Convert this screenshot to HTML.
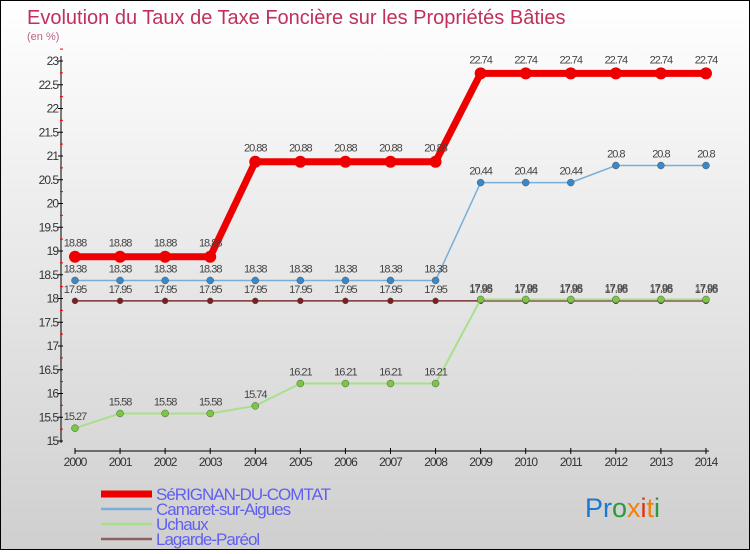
<!DOCTYPE html>
<html><head><meta charset="utf-8"><style>
body{margin:0}
#c{width:748px;height:548px;border:1px solid #000;background:linear-gradient(#ffffff,#cfcfcf);position:relative;font-family:"Liberation Sans",sans-serif}
</style></head><body>
<div id="c">
<svg id="s" width="748" height="548">
<text x="26" y="23" font-size="20" fill="#c0305a">Evolution du Taux de Taxe Foncière sur les Propriétés Bâties</text>
<text x="26" y="39" font-size="11" fill="#c0608a">(en %)</text>
<g id="g"></g>
<text x="584" y="516" font-size="27"><tspan fill="#1a7ad0">Pr</tspan><tspan fill="#2a9a3a">o</tspan><tspan fill="#f08010">x</tspan><tspan fill="#e03010">i</tspan><tspan fill="#f08010">t</tspan><tspan fill="#2a9a3a">i</tspan></text>
</svg></div>
<script>
const years=[2000,2001,2002,2003,2004,2005,2006,2007,2008,2009,2010,2011,2012,2013,2014];
const serignan=[18.88,18.88,18.88,18.88,20.88,20.88,20.88,20.88,20.88,22.74,22.74,22.74,22.74,22.74,22.74];
const camaret=[18.38,18.38,18.38,18.38,18.38,18.38,18.38,18.38,18.38,20.44,20.44,20.44,20.8,20.8,20.8];
const uchaux=[15.27,15.58,15.58,15.58,15.74,16.21,16.21,16.21,16.21,17.98,17.98,17.98,17.98,17.98,17.98];
const lagarde=[17.95,17.95,17.95,17.95,17.95,17.95,17.95,17.95,17.95,17.95,17.95,17.95,17.95,17.95,17.95];
const yTicks=[15,15.5,16,16.5,17,17.5,18,18.5,19,19.5,20,20.5,21,21.5,22,22.5,23];
const names=["SéRIGNAN-DU-COMTAT","Camaret-sur-Aigues","Uchaux","Lagarde-Paréol"];
const NS="http://www.w3.org/2000/svg",g=document.getElementById('g');
const X=i=>74+i*45.07, Y=v=>440-(v-15)*47.5;
function el(t,a,n){const e=document.createElementNS(NS,t);for(const k in a)e.setAttribute(k,a[k]);


g.appendChild(e);return e;}
el('line',{x1:60,y1:55,x2:60,y2:442,stroke:'#000'},'y-axis');
yTicks.forEach(v=>{el('line',{x1:57,x2:62,y1:Y(v),y2:Y(v),stroke:'#000'},'y-tick');
const t=el('text',{x:57,y:Y(v)+4,'font-size':12,fill:'#333','text-anchor':'end','letter-spacing':'-1'},'y-tick-label');t.textContent=v;
el('line',{x1:59,x2:62,y1:Y(v)-11.9,y2:Y(v)-11.9,stroke:'#e00'},'y-minor-tick');});
el('line',{x1:74,y1:450,x2:708,y2:450,stroke:'#000'},'x-axis');
years.forEach((y,i)=>{el('line',{x1:X(i),x2:X(i),y1:447,y2:453,stroke:'#000'},'x-tick');
const t=el('text',{x:X(i),y:465,'font-size':12,fill:'#333','text-anchor':'middle','letter-spacing':'-1'},'x-tick-label');t.textContent=y;});
const series=[[lagarde,'#7a3030','#7a2020',1.5,3,'lagarde'],[uchaux,'#a8e08a','#78c840',2,3.5,'uchaux'],[camaret,'#78aed8','#3a88c8',1.5,3.5,'camaret'],[serignan,'#ee0000','#ee0000',7,6,'serignan']];
series.forEach(([d,lc,pc,w,r,n])=>{
el('polyline',{points:d.map((v,i)=>X(i)+','+Y(v)).join(' '),fill:'none',stroke:lc,'stroke-width':w},n+'-line');
d.forEach((v,i)=>{el('circle',{cx:X(i),cy:Y(v),r:r,fill:pc,stroke:n=='serignan'?'none':'#555','stroke-width':0.5},n+'-point');
const t=el('text',{x:X(i),y:Y(v)-(n=='serignan'?10:8),'font-size':11,fill:'#444','text-anchor':'middle','letter-spacing':'-1'},n+'-value-label');t.textContent=v;});});
const lc=['#ee0000','#78aed8','#a8e08a','#906060'],lw=[7,2.5,2.5,2.5];
names.forEach((nm,i)=>{const y=493+i*15;
el('line',{x1:100,x2:151,y1:y,y2:y,stroke:lc[i],'stroke-width':lw[i]},'legend-swatch');
const t=el('text',{x:155,y:y+6,'font-size':17,fill:'#6060f0','letter-spacing':'-1'},'legend-entry');t.textContent=nm;});
</script></body></html>
